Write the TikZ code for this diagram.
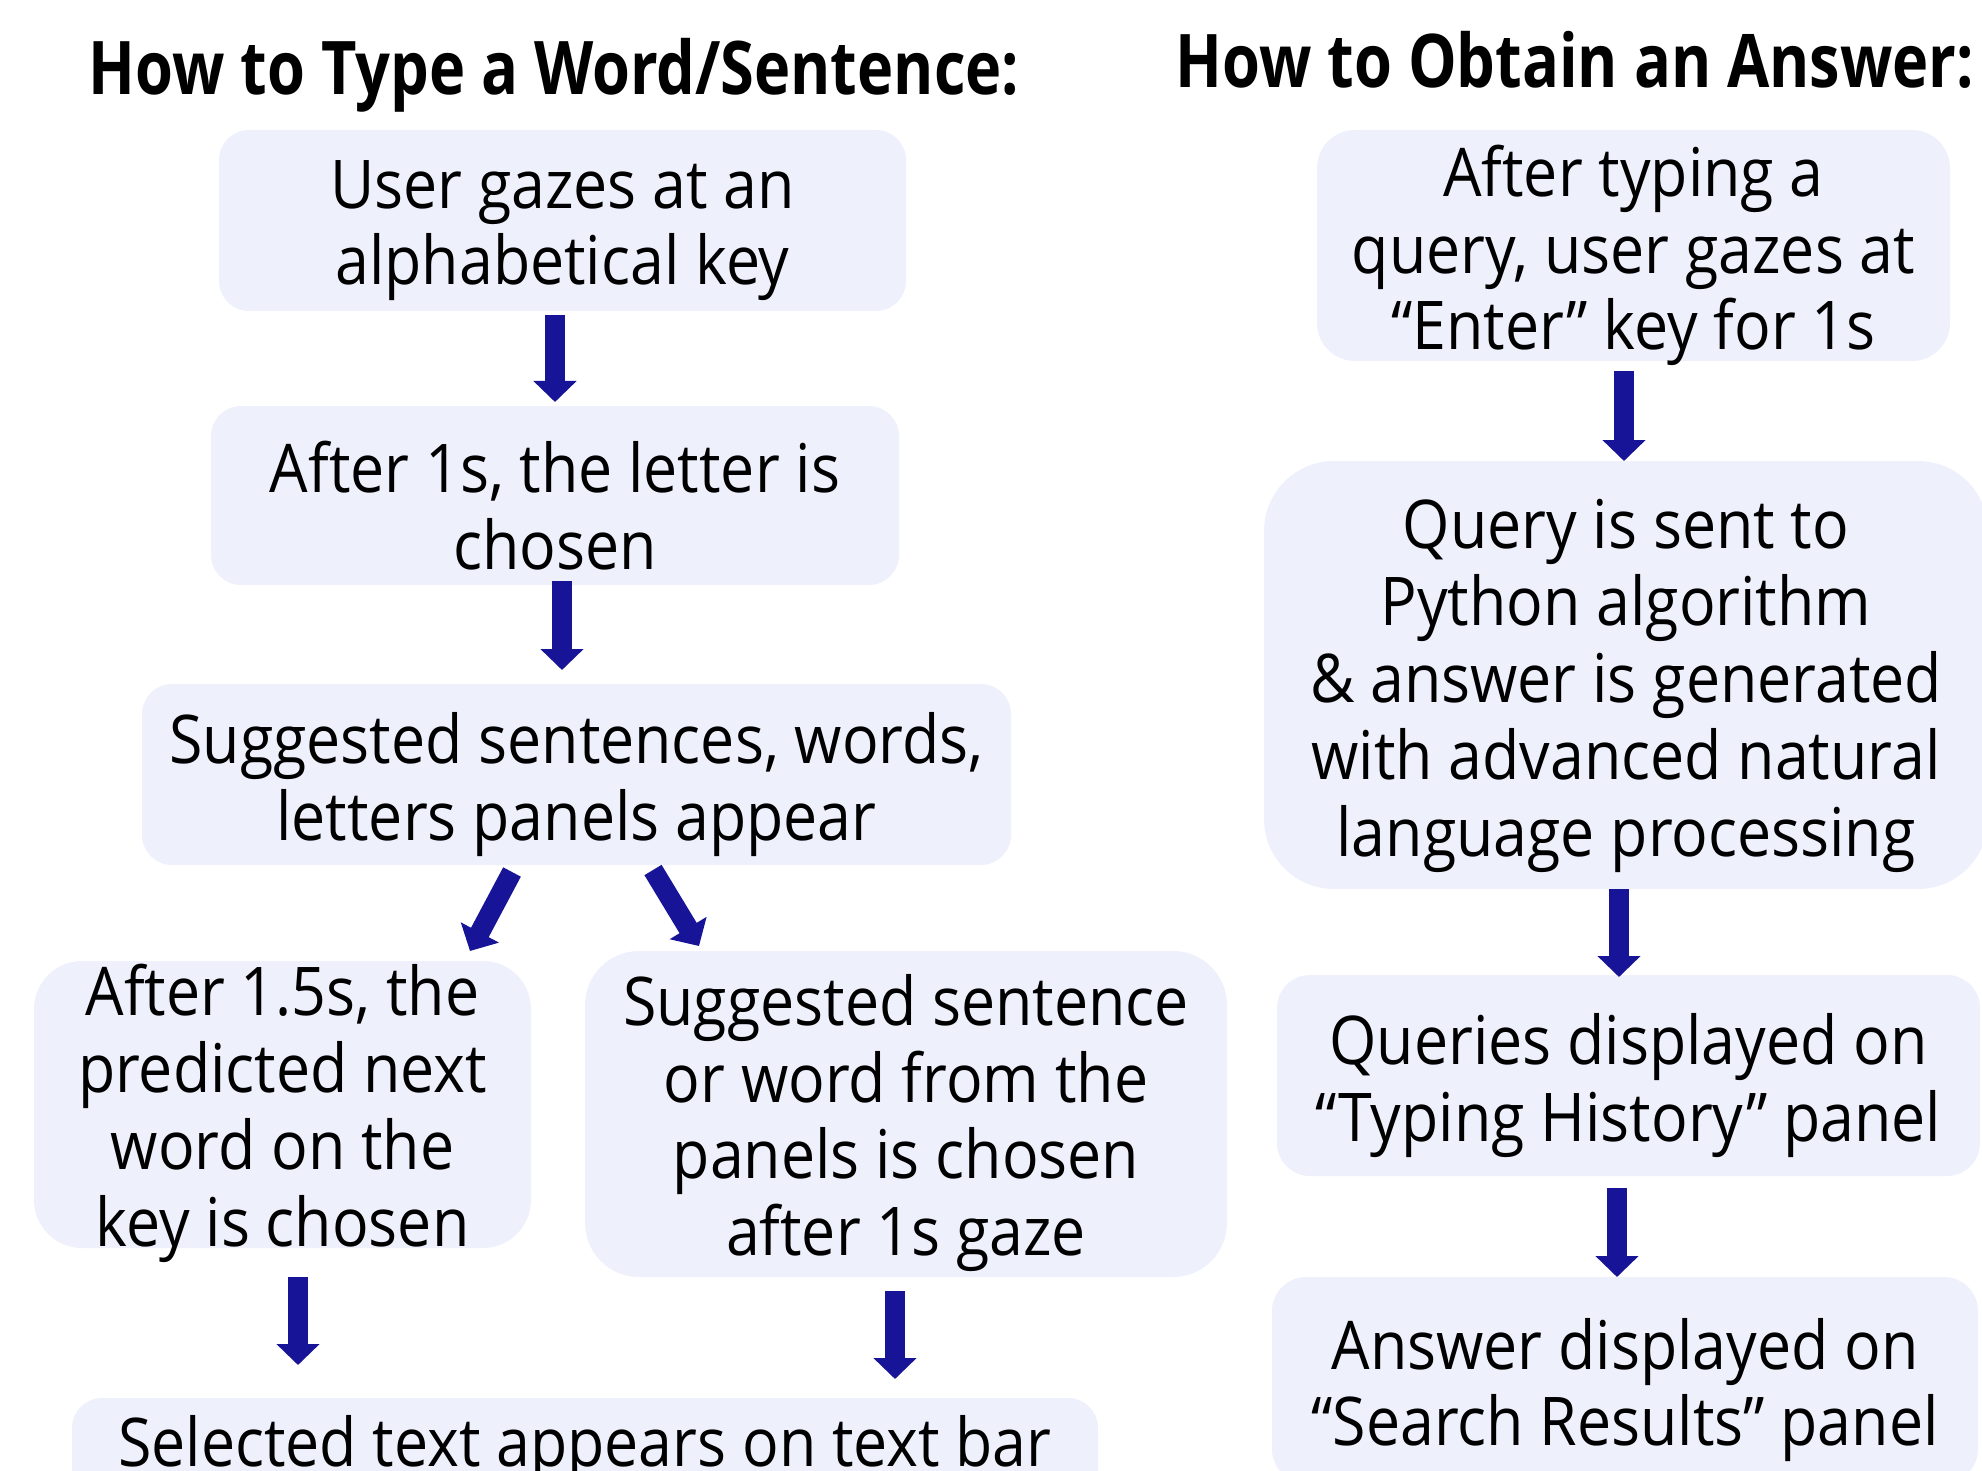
\documentclass[tikz,border=0pt]{standalone}
\usepackage{fontspec}
\usetikzlibrary{arrows.meta}
\newfontfamily\bodyfont[FakeStretch=0.905]{Open Sans}
\newfontfamily\headfont[FakeStretch=0.828]{Open Sans}
\definecolor{boxfill}{RGB}{238,240,252}
\definecolor{arrowblue}{RGB}{24,20,152}
\tikzset{
  box/.style={fill=boxfill, inner sep=0pt},
  boxtxt/.style={align=center, inner sep=0pt,
    font=\bodyfont\fontsize{33.6pt}{38.4pt}\selectfont},
  headtxt/.style={anchor=base, inner sep=0pt,
    font=\headfont\bfseries\fontsize{37pt}{40pt}\selectfont},
  arr/.style={draw=arrowblue, line width=10pt,
    -{Triangle[width=21pt,length=10.5pt]}}
}
\begin{document}
\begin{tikzpicture}[x=0.5pt,y=-0.5pt]
\useasboundingbox (0,0) rectangle (1982,1471);
\clip (0,0) rectangle (1982,1471);
% titles
\node[headtxt] (tl) at (554,95) {How to Type a Word/Sentence:};
\node[headtxt] (tr) at (1575,88) {How to Obtain an Answer:};
% left column boxes
\node[box, minimum width=343.5pt, minimum height=90.5pt, rounded corners=15pt] (b1) at (562.5,220.5) {};
\node[box, minimum width=344pt, minimum height=89.5pt, rounded corners=15pt] (b2) at (555,495.5) {};
\node[box, minimum width=434.5pt, minimum height=90.5pt, rounded corners=15pt] (b3) at (576.5,774.5) {};
\node[box, minimum width=248.5pt, minimum height=143.5pt, rounded corners=24pt] (b4) at (282.5,1104.5) {};
\node[box, minimum width=321pt, minimum height=163pt, rounded corners=27pt] (b5) at (906,1114) {};
\node[box, minimum width=513pt, minimum height=90.5pt, rounded corners=15pt] (b6) at (585,1488.5) {};
% right column boxes
\node[box, minimum width=316.5pt, minimum height=115.5pt, rounded corners=19pt] (r1) at (1633.5,245.5) {};
\node[box, minimum width=362pt, minimum height=214pt, rounded corners=35pt] (r2) at (1626,675) {};
\node[box, minimum width=351.5pt, minimum height=100.5pt, rounded corners=16.5pt] (r3) at (1628.5,1075.5) {};
\node[box, minimum width=353pt, minimum height=103pt, rounded corners=17pt] (r4) at (1625,1380) {};
% texts
\node[boxtxt] (b1t) at ([yshift=-5pt]b1.center) {User gazes at an\\alphabetical key};
\node[boxtxt] (b2t) at ([yshift=-5pt]b2.center) {After 1s, the letter is\\chosen};
\node[boxtxt] (b3t) at ([yshift=-5pt]b3.center) {Suggested sentences, words,\\letters panels appear};
\node[boxtxt] (b4t) at ([yshift=-4.5pt]b4.center) {After 1.5s, the\\predicted next\\word on the\\key is chosen};
\node[boxtxt] (b5t) at ([yshift=-4.5pt]b5.center) {Suggested sentence\\or word from the\\panels is chosen\\after 1s gaze};
\node[boxtxt, anchor=base] (b6t) at (585,1466) {Selected text appears on text bar};
\node[boxtxt] (r1t) at ([yshift=-5pt]r1.center) {After typing a\\query, user gazes at\\“Enter” key for 1s};
\node[boxtxt] (r2t) at ([yshift=-5.5pt]r2.center) {Query is sent to\\Python algorithm\\\& answer is generated\\with advanced natural\\language processing};
\node[boxtxt] (r3t) at ([yshift=-5pt]r3.center) {Queries displayed on\\“Typing History” panel};
\node[boxtxt] (r4t) at ([yshift=-5pt]r4.center) {Answer displayed on\\“Search Results” panel};
% arrow end points
\coordinate (a1s) at (555,315); \coordinate (a1e) at (555,402);
\coordinate (a2s) at (562,581); \coordinate (a2e) at (562,670);
\coordinate (a3s) at (512,872); \coordinate (a3e) at (470,951);
\coordinate (a4s) at (653,870); \coordinate (a4e) at (699,946);
\coordinate (a5s) at (298,1277); \coordinate (a5e) at (298,1365);
\coordinate (a6s) at (895,1291); \coordinate (a6e) at (895,1379);
\coordinate (c1s) at (1624,371); \coordinate (c1e) at (1624,461);
\coordinate (c2s) at (1619,889); \coordinate (c2e) at (1619,977);
\coordinate (c3s) at (1617,1188); \coordinate (c3e) at (1617,1277);
\draw[arr] (a1s) -- (a1e);
\draw[arr] (a2s) -- (a2e);
\draw[arr] (a3s) -- (a3e);
\draw[arr] (a4s) -- (a4e);
\draw[arr] (a5s) -- (a5e);
\draw[arr] (a6s) -- (a6e);
\draw[arr] (c1s) -- (c1e);
\draw[arr] (c2s) -- (c2e);
\draw[arr] (c3s) -- (c3e);
\end{tikzpicture}
\end{document}
